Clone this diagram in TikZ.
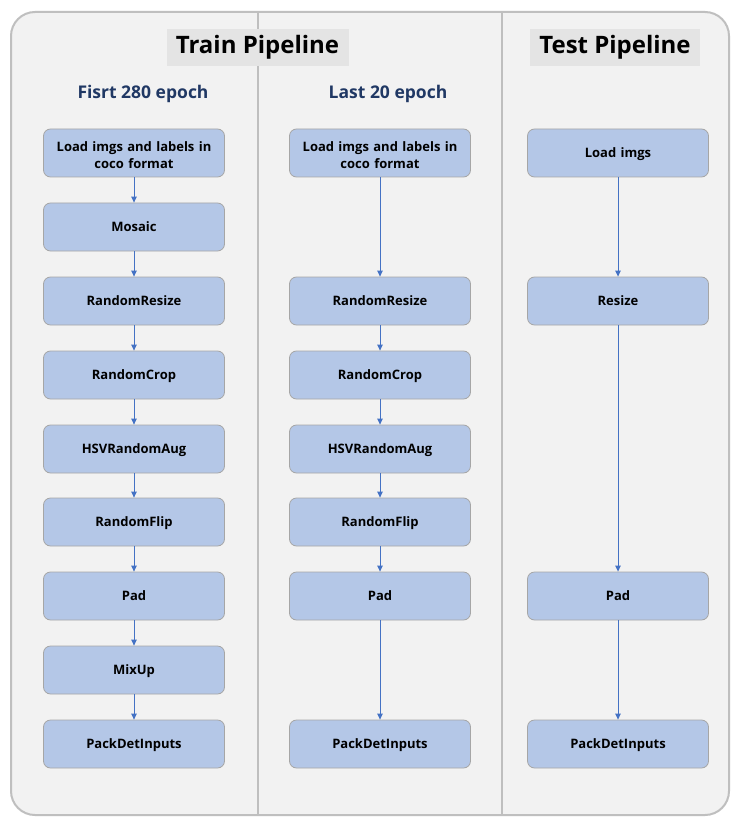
\documentclass[tikz,border=0pt]{standalone}
\usepackage{fontspec}
\setmainfont{Open Sans}
\usetikzlibrary{arrows.meta}
\definecolor{boxfill}{HTML}{B4C7E7}
\definecolor{boxline}{HTML}{A6A6A6}
\definecolor{bgfill}{HTML}{F2F2F2}
\definecolor{outline}{HTML}{BFBFBF}
\definecolor{titlefill}{HTML}{E4E4E4}
\definecolor{subblue}{HTML}{203864}
\definecolor{arrowblue}{HTML}{4472C4}
\tikzset{
  stagebox/.style={draw=boxline, fill=boxfill, rounded corners=7pt, line width=0.8pt,
    minimum width=181pt, minimum height=48pt, inner sep=0pt, align=center,
    font=\fontsize{13}{17}\selectfont\bfseries, text width=175pt,
    execute at end node={\par\vspace*{-5pt}}},
  titlebox/.style={fill=titlefill, inner sep=0pt, minimum height=37pt,
    font=\fontsize{24}{26}\selectfont\bfseries},
  subhead/.style={text=subblue, font=\fontsize{17.5}{20}\selectfont\bfseries},
  flow/.style={draw=arrowblue, line width=1pt, -{Triangle[length=6pt,width=5.5pt]}}
}
\begin{document}
\begin{tikzpicture}[x=1pt,y=-1pt]
\useasboundingbox (0,0) rectangle (747,818);
\fill[white] (0,0) rectangle (747,818);
\draw[outline, fill=bgfill, line width=2pt, rounded corners=24pt] (11,12) rectangle (729,815);
\draw[outline, line width=2pt] (258,12) -- (258,815);
\draw[outline, line width=2pt] (502,12) -- (502,815);
\node[titlebox, minimum width=182pt] (ttrain) at (257.5,47.5) {\raisebox{-2pt}{Train Pipeline}};
\node[titlebox, minimum width=170pt] (ttest) at (615,47.5) {\raisebox{-2pt}{Test Pipeline}};
\node[subhead] (h1) at (143,93.5) {Fisrt 280 epoch};
\node[subhead] (h2) at (388,93.5) {Last 20 epoch};
% column 1
\node[stagebox] (a1) at (134,153) {Load imgs and labels in\\coco format};
\node[stagebox] (a2) at (134,227) {Mosaic};
\node[stagebox] (a3) at (134,301) {RandomResize};
\node[stagebox] (a4) at (134,375) {RandomCrop};
\node[stagebox] (a5) at (134,449) {HSVRandomAug};
\node[stagebox] (a6) at (134,522) {RandomFlip};
\node[stagebox] (a7) at (134,596) {Pad};
\node[stagebox] (a8) at (134,670) {MixUp};
\node[stagebox] (a9) at (134,744) {PackDetInputs};
\foreach \i/\j in {a1/a2,a2/a3,a3/a4,a4/a5,a5/a6,a6/a7,a7/a8,a8/a9}
  \draw[flow] (\i) -- (\j);
% column 2
\node[stagebox] (b1) at (380,153) {Load imgs and labels in\\coco format};
\node[stagebox] (b3) at (380,301) {RandomResize};
\node[stagebox] (b4) at (380,375) {RandomCrop};
\node[stagebox] (b5) at (380,449) {HSVRandomAug};
\node[stagebox] (b6) at (380,522) {RandomFlip};
\node[stagebox] (b7) at (380,596) {Pad};
\node[stagebox] (b9) at (380,744) {PackDetInputs};
\foreach \i/\j in {b1/b3,b3/b4,b4/b5,b5/b6,b6/b7,b7/b9}
  \draw[flow] (\i) -- (\j);
% column 3
\node[stagebox] (c1) at (618,153) {Load imgs};
\node[stagebox] (c3) at (618,301) {Resize};
\node[stagebox] (c7) at (618,596) {Pad};
\node[stagebox] (c9) at (618,744) {PackDetInputs};
\foreach \i/\j in {c1/c3,c3/c7,c7/c9}
  \draw[flow] (\i) -- (\j);
\end{tikzpicture}
\end{document}
